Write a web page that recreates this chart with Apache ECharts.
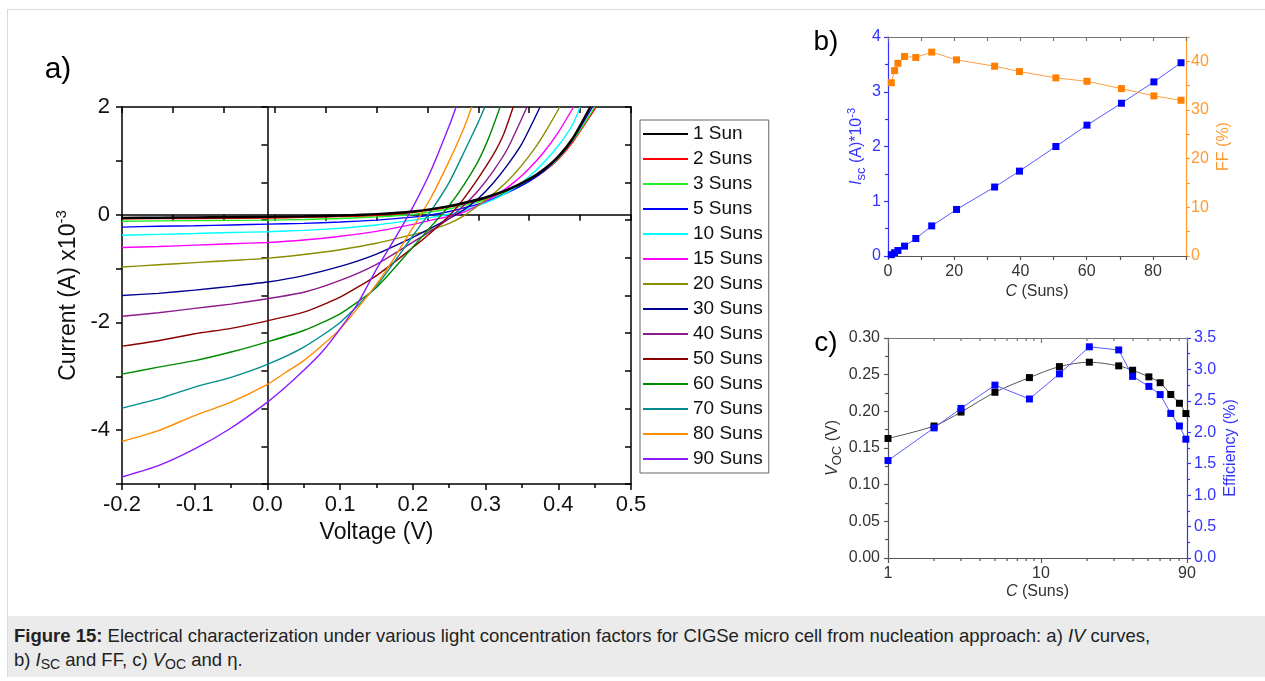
<!DOCTYPE html>
<html><head><meta charset="utf-8">
<script src="https://cdn.jsdelivr.net/npm/echarts@6/dist/echarts.min.js"></script>
<style>
html,body{margin:0;padding:0;background:#fff;}
#frame{position:absolute;left:7px;top:9px;width:1265px;height:668px;border:1px solid #dadada;box-sizing:border-box;}
#chart{position:absolute;left:0;top:0;width:1265px;height:681px;}
#cap{position:absolute;left:8px;top:616px;width:1257px;height:61px;background:#ebebeb;font-family:'Liberation Sans',Arial,sans-serif;font-size:18.5px;color:#222;line-height:24px;padding:8px 0 0 6px;box-sizing:border-box;white-space:nowrap;}
#cap sub{font-size:14px;vertical-align:-3px;line-height:0;}
</style></head><body>
<div id="frame"></div>
<div id="chart"></div>
<div id="cap"><b>Figure 15:</b> Electrical characterization under various light concentration factors for CIGSe micro cell from nucleation approach: a) <i>IV</i> curves,<br>b) <i>I</i><sub>SC</sub> and FF, c) <i>V</i><sub>OC</sub> and η.</div>
<script>
// ---------- DATA ----------
const legendNames = ['1 Sun','2 Suns','3 Suns','5 Suns','10 Suns','15 Suns','20 Suns','30 Suns','40 Suns','50 Suns','60 Suns','70 Suns','80 Suns','90 Suns'];

// IV curves: [voltage (V), current (A x1e-3)]
const sun1  = [[-0.2,-0.06],[-0.15,-0.055],[-0.1,-0.05],[-0.05,-0.045],[0,-0.04],[0.05,-0.03],[0.1,-0.015],[0.15,0.01],[0.2,0.06],[0.25,0.16],[0.28,0.25],[0.3,0.32],[0.33,0.46],[0.36,0.66],[0.38,0.84],[0.4,1.08],[0.42,1.42],[0.444,2.0]];
const sun2  = [[-0.2,-0.075],[-0.1,-0.07],[0,-0.06],[0.05,-0.05],[0.1,-0.035],[0.15,-0.015],[0.2,0.04],[0.25,0.14],[0.28,0.23],[0.3,0.3],[0.33,0.44],[0.36,0.63],[0.38,0.8],[0.4,1.03],[0.42,1.35],[0.44,1.75],[0.452,2.0]];
const sun3  = [[-0.2,-0.12],[-0.1,-0.11],[0,-0.1],[0.05,-0.09],[0.1,-0.07],[0.15,-0.04],[0.2,0.005],[0.25,0.11],[0.28,0.2],[0.3,0.28],[0.33,0.43],[0.36,0.63],[0.38,0.81],[0.4,1.05],[0.42,1.38],[0.44,1.78],[0.45,2.0]];
const sun5  = [[-0.2,-0.23],[-0.15,-0.215],[-0.1,-0.205],[-0.05,-0.19],[0,-0.175],[0.05,-0.16],[0.1,-0.135],[0.15,-0.1],[0.2,-0.045],[0.226,0],[0.25,0.06],[0.28,0.16],[0.3,0.24],[0.33,0.41],[0.36,0.62],[0.38,0.81],[0.4,1.06],[0.42,1.4],[0.447,2.0]];
const sun10 = [[-0.2,-0.38],[-0.15,-0.365],[-0.1,-0.35],[-0.05,-0.33],[0,-0.315],[0.05,-0.29],[0.1,-0.25],[0.15,-0.19],[0.2,-0.1],[0.225,-0.05],[0.246,0],[0.27,0.08],[0.3,0.22],[0.32,0.34],[0.34,0.5],[0.36,0.71],[0.38,0.97],[0.4,1.28],[0.42,1.68],[0.43,2.0]];
const sun15 = [[-0.2,-0.61],[-0.15,-0.59],[-0.1,-0.565],[-0.05,-0.54],[0,-0.515],[0.05,-0.47],[0.1,-0.4],[0.15,-0.31],[0.2,-0.18],[0.225,-0.1],[0.25,-0.03],[0.261,0],[0.28,0.11],[0.3,0.25],[0.32,0.41],[0.34,0.61],[0.36,0.86],[0.38,1.16],[0.4,1.53],[0.421,2.0]];
const sun20 = [[-0.2,-0.97],[-0.15,-0.93],[-0.1,-0.89],[-0.05,-0.85],[0,-0.81],[0.05,-0.74],[0.1,-0.65],[0.15,-0.53],[0.2,-0.37],[0.225,-0.28],[0.25,-0.16],[0.27,-0.02],[0.29,0.17],[0.31,0.38],[0.33,0.62],[0.35,0.92],[0.37,1.28],[0.385,1.6],[0.402,2.0]];
const sun30 = [[-0.2,-1.5],[-0.15,-1.46],[-0.1,-1.4],[-0.05,-1.33],[0,-1.25],[0.05,-1.13],[0.1,-0.96],[0.15,-0.73],[0.2,-0.42],[0.225,-0.25],[0.25,-0.07],[0.27,0.09],[0.29,0.3],[0.31,0.58],[0.33,0.92],[0.35,1.32],[0.375,2.0]];
const sun40 = [[-0.2,-1.885],[-0.15,-1.82],[-0.1,-1.74],[-0.05,-1.66],[0,-1.56],[0.05,-1.44],[0.1,-1.22],[0.15,-0.92],[0.2,-0.51],[0.225,-0.3],[0.25,-0.07],[0.27,0.17],[0.29,0.45],[0.31,0.8],[0.33,1.22],[0.357,2.0]];
const sun50 = [[-0.2,-2.44],[-0.15,-2.34],[-0.1,-2.21],[-0.05,-2.11],[0,-1.97],[0.05,-1.81],[0.1,-1.53],[0.15,-1.13],[0.2,-0.61],[0.225,-0.33],[0.25,-0.02],[0.27,0.3],[0.29,0.68],[0.31,1.1],[0.325,1.5],[0.338,2.0]];
const sun60 = [[-0.2,-2.96],[-0.15,-2.83],[-0.1,-2.71],[-0.05,-2.55],[0,-2.36],[0.05,-2.15],[0.1,-1.84],[0.15,-1.35],[0.2,-0.6],[0.225,-0.22],[0.25,0.17],[0.27,0.55],[0.29,1.0],[0.305,1.45],[0.32,2.0]];
const sun70 = [[-0.2,-3.59],[-0.15,-3.42],[-0.1,-3.2],[-0.05,-3.02],[0,-2.78],[0.05,-2.46],[0.1,-2.0],[0.15,-1.32],[0.2,-0.39],[0.225,0.07],[0.25,0.6],[0.27,1.15],[0.29,1.72],[0.299,2.0]];
const sun80 = [[-0.2,-4.21],[-0.15,-4.01],[-0.1,-3.73],[-0.05,-3.48],[0,-3.15],[0.025,-2.93],[0.05,-2.71],[0.075,-2.43],[0.1,-2.12],[0.125,-1.72],[0.15,-1.29],[0.175,-0.79],[0.2,-0.24],[0.225,0.32],[0.25,1.0],[0.27,1.6],[0.281,2.0]];
const sun90 = [[-0.2,-4.87],[-0.15,-4.66],[-0.1,-4.35],[-0.05,-3.96],[0,-3.48],[0.025,-3.2],[0.05,-2.89],[0.075,-2.55],[0.1,-2.12],[0.125,-1.63],[0.15,-1.01],[0.175,-0.45],[0.2,0.14],[0.225,0.82],[0.25,1.65],[0.26,2.02]];
const ivCurves = [sun1,sun2,sun3,sun5,sun10,sun15,sun20,sun30,sun40,sun50,sun60,sun70,sun80,sun90];

// panel b / c
const concentration = [1.0, 2.0, 3.0, 5.0, 8.4, 13.2, 20.7, 32.2, 39.7, 50.7, 60.1, 70.5, 80.3, 88.5];
const iscValues = [0.024, 0.06, 0.10, 0.18, 0.32, 0.55, 0.85, 1.26, 1.55, 2.00, 2.39, 2.79, 3.18, 3.53];
const ffValues  = [35.6, 38.1, 39.6, 41.0, 40.8, 41.9, 40.3, 39.0, 37.9, 36.6, 35.9, 34.4, 32.9, 32.0];
const vocValues = [0.163, 0.180, 0.199, 0.226, 0.246, 0.261, 0.267, 0.262, 0.256, 0.247, 0.239, 0.223, 0.211, 0.197];
const effValues = [1.55, 2.07, 2.38, 2.75, 2.53, 2.93, 3.36, 3.31, 2.89, 2.73, 2.60, 2.30, 2.10, 1.89];
const logMinorTicks = [2,3,4,5,6,7,8,9,20,30,40,50,60,70,80];

// ---------- STYLE ----------
const curveColors = ['#000000','#ff0000','#22ee22','#0000ff','#00ffff','#ff00ff','#8c8c00','#000090','#8c1a8c','#8c0000','#008c00','#008c8c','#ff8c00','#8c1aff'];
const FONT = "'Liberation Sans', Arial, sans-serif";
const BLUE = '#3333ff', ORANGE = '#ff9a30', DARK = '#333';

function zip(xs, ys){ return xs.map((x,i)=>[x, ys[i]]); }

const chart = echarts.init(document.getElementById('chart'));

const tick = (c, inside, len, w) => ({show:true, inside:inside, length:len, lineStyle:{color:c, width:w||1.5}});
const line = (c, w) => ({show:true, onZero:false, lineStyle:{color:c, width:w||1.5}});
const noLabel = {show:false};

const xAxes = [
  // 0: panel a bottom
  {gridIndex:0, type:'value', min:-0.2, max:0.5, interval:0.1, position:'bottom',
   axisLine:line('#000'), axisTick:tick('#000', false, 6),
   minorTick:{show:true, splitNumber:2, length:4, lineStyle:{color:'#000', width:1.5}},
   splitLine:{show:false},
   axisLabel:{fontSize:22, fontFamily:FONT, color:'#111', margin:10, formatter:v=>(Math.abs(v)<1e-9?0:v).toFixed(1)},
   name:'Voltage (V)', nameLocation:'middle', nameGap:36, nameTextStyle:{fontSize:23, fontFamily:FONT, color:'#111'}},
  // 1: panel a top frame
  {gridIndex:0, type:'value', min:0, max:10, interval:1, position:'top',
   axisLine:line('#000'), axisTick:tick('#000', true, 6), axisLabel:noLabel, splitLine:{show:false}},
  // 2: panel a inner horizontal line at I = 0
  {gridIndex:0, type:'value', min:0, max:10, interval:1, position:'bottom',
   axisLine:{show:true, onZero:true, onZeroAxisIndex:0, lineStyle:{color:'#000', width:1.5}},
   axisTick:tick('#000', false, 6), axisLabel:noLabel, splitLine:{show:false}},
  // 3: panel b bottom
  {gridIndex:1, type:'value', min:0, max:90, interval:10, position:'bottom',
   axisLine:line('#555', 1.2), axisTick:tick('#555', false, 4, 1.2), splitLine:{show:false},
   axisLabel:{fontSize:16, fontFamily:FONT, color:DARK, margin:8, formatter:v=>(Math.round(v)%20===0?String(Math.round(v)):'')},
   name:'{i|C} (Suns)', nameLocation:'middle', nameGap:28,
   nameTextStyle:{fontSize:16, fontFamily:FONT, color:DARK, rich:{i:{fontStyle:'italic', fontSize:16, fontFamily:FONT, color:DARK}}}},
  // 4: panel b top frame
  {gridIndex:1, type:'value', min:0, max:90, interval:10, position:'top',
   axisLine:line('#777', 1.2), axisTick:tick('#777', true, 4, 1.2), axisLabel:noLabel, splitLine:{show:false}},
  // 5: panel c bottom (log)
  {gridIndex:2, type:'log', logBase:10, min:1, max:90, position:'bottom',
   axisLine:line('#555', 1.2), axisTick:tick('#555', false, 5, 1.2), splitLine:{show:false},
   axisLabel:{fontSize:16, fontFamily:FONT, color:DARK, margin:8, formatter:v=>String(Math.round(v))},
   name:'{i|C} (Suns)', nameLocation:'middle', nameGap:26,
   nameTextStyle:{fontSize:16, fontFamily:FONT, color:DARK, rich:{i:{fontStyle:'italic', fontSize:16, fontFamily:FONT, color:DARK}}}},
  // 6: panel c top frame (log)
  {gridIndex:2, type:'log', logBase:10, min:1, max:90, position:'top',
   axisLine:line('#777', 1.2), axisTick:tick('#777', true, 5, 1.2), axisLabel:noLabel, splitLine:{show:false}}
];

const yAxes = [
  // 0: panel a left
  {gridIndex:0, type:'value', min:-5, max:2, interval:1, position:'left',
   axisLine:line('#000'), axisTick:tick('#000', false, 6), splitLine:{show:false},
   axisLabel:{fontSize:22, fontFamily:FONT, color:'#111', margin:12, formatter:v=>(Math.round(v)%2===0?String(Math.round(v)):'')},
   name:'Current (A) x10{sup|-3}', nameLocation:'middle', nameGap:38,
   nameTextStyle:{fontSize:23, fontFamily:FONT, color:'#111', lineHeight:30, rich:{sup:{fontSize:15, fontFamily:FONT, color:'#111', verticalAlign:'top', lineHeight:30}}}},
  // 1: panel a right frame
  {gridIndex:0, type:'value', min:0, max:10, interval:1, position:'right',
   axisLine:line('#000'), axisTick:tick('#000', true, 6), axisLabel:noLabel, splitLine:{show:false}},
  // 2: panel a inner vertical line at V = 0
  {gridIndex:0, type:'value', min:0, max:10, interval:1, position:'left',
   axisLine:{show:true, onZero:true, onZeroAxisIndex:0, lineStyle:{color:'#000', width:1.5}},
   axisTick:tick('#000', false, 6), axisLabel:noLabel, splitLine:{show:false}},
  // 3: panel b left (Isc)
  {gridIndex:1, type:'value', min:0, max:4, interval:1, position:'left',
   axisLine:line(BLUE, 1.2), axisTick:tick(BLUE, false, 4, 1.2),
   minorTick:{show:true, splitNumber:2, length:3, lineStyle:{color:BLUE, width:1.2}}, splitLine:{show:false},
   axisLabel:{fontSize:16, fontFamily:FONT, color:BLUE, margin:7},
   name:'{i|I}{sub|sc} (A)*10{sup|-3}', nameLocation:'middle', nameGap:20,
   nameTextStyle:{fontSize:16, fontFamily:FONT, color:BLUE, lineHeight:22,
     rich:{i:{fontStyle:'italic', fontSize:16, fontFamily:FONT, color:BLUE, lineHeight:22},
           sub:{fontSize:13, fontFamily:FONT, color:BLUE, verticalAlign:'bottom', lineHeight:22},
           sup:{fontSize:11, fontFamily:FONT, color:BLUE, verticalAlign:'top', lineHeight:22}}}},
  // 4: panel b right (FF)
  {gridIndex:1, type:'value', min:0, max:45, interval:5, position:'right',
   axisLine:line(ORANGE, 1.2), axisTick:tick(ORANGE, false, 4, 1.2), splitLine:{show:false},
   axisLabel:{fontSize:16, fontFamily:FONT, color:ORANGE, margin:5, formatter:v=>(Math.round(v)%10===0?String(Math.round(v)):'')},
   name:'FF (%)', nameLocation:'middle', nameGap:30, nameRotate:90,
   nameTextStyle:{fontSize:16, fontFamily:FONT, color:ORANGE}},
  // 5: panel c left (Voc)
  {gridIndex:2, type:'value', min:0, max:0.3, interval:0.05, position:'left',
   axisLine:line('#555', 1.2), axisTick:tick('#555', false, 4, 1.2),
   minorTick:{show:true, splitNumber:2, length:3, lineStyle:{color:'#555', width:1.2}}, splitLine:{show:false},
   axisLabel:{fontSize:16, fontFamily:FONT, color:DARK, margin:8, formatter:v=>v.toFixed(2)},
   name:'{i|V}{sub|OC} (V)', nameLocation:'middle', nameGap:44,
   nameTextStyle:{fontSize:16, fontFamily:FONT, color:DARK, lineHeight:22,
     rich:{i:{fontStyle:'italic', fontSize:16, fontFamily:FONT, color:DARK, lineHeight:22},
           sub:{fontSize:13, fontFamily:FONT, color:DARK, verticalAlign:'bottom', lineHeight:22}}}},
  // 6: panel c right (Efficiency)
  {gridIndex:2, type:'value', min:0, max:3.5, interval:0.5, position:'right',
   axisLine:line(BLUE, 1.2), axisTick:tick(BLUE, false, 4, 1.2),
   minorTick:{show:true, splitNumber:2, length:3, lineStyle:{color:BLUE, width:1.2}}, splitLine:{show:false},
   axisLabel:{fontSize:16, fontFamily:FONT, color:BLUE, margin:7, formatter:v=>v.toFixed(1)},
   name:'Efficiency (%)', nameLocation:'middle', nameGap:36, nameRotate:90,
   nameTextStyle:{fontSize:16, fontFamily:FONT, color:BLUE}}
];

const ivSeries = ivCurves.map((d, i) => ({
  name: legendNames[i], type:'line', xAxisIndex:0, yAxisIndex:0, data:d,
  showSymbol:false, symbol:'none', smooth:0.2, clip:true,
  color: curveColors[i], lineStyle:{width: i===0 ? 2.4 : 1.4, color: curveColors[i]},
  z: i===0 ? 3 : 2, animation:false
}));

const option = {
  animation:false,
  textStyle:{fontFamily:FONT},
  grid:[
    {left:122, top:107, width:509, height:377},
    {left:888, top:37, width:298, height:219},
    {left:888, top:338, width:299, height:220}
  ],
  xAxis:xAxes,
  yAxis:yAxes,
  legend:{
    data:legendNames, orient:'vertical', left:640, top:120, icon:'rect',
    itemWidth:45, itemHeight:2, itemGap:5, selectedMode:false,
    padding:[4,6,4,3], borderColor:'#666', borderWidth:1,
    textStyle:{fontSize:19, fontFamily:FONT, color:'#111', lineHeight:20}
  },
  graphic:[
    {type:'text', x:58, y:70, style:{text:'a)', fontSize:30, fontFamily:FONT, fill:'#000', align:'center', verticalAlign:'middle'}},
    {type:'text', x:826, y:42, style:{text:'b)', fontSize:28, fontFamily:FONT, fill:'#000', align:'center', verticalAlign:'middle'}},
    {type:'text', x:826, y:343, style:{text:'c)', fontSize:28, fontFamily:FONT, fill:'#000', align:'center', verticalAlign:'middle'}}
  ],
  series: ivSeries.concat([
    {name:'Isc', type:'line', xAxisIndex:3, yAxisIndex:3, data:zip(concentration, iscValues),
     symbol:'rect', symbolSize:7, itemStyle:{color:'#0000ff'}, lineStyle:{color:'#5a5aff', width:1}},
    {name:'FF', type:'line', xAxisIndex:3, yAxisIndex:4, data:zip(concentration, ffValues),
     symbol:'rect', symbolSize:7, itemStyle:{color:'#ff8000'}, lineStyle:{color:'#ffa040', width:1}},
    {name:'Voc', type:'line', xAxisIndex:5, yAxisIndex:5, data:zip(concentration, vocValues), smooth:0.3,
     symbol:'rect', symbolSize:7, itemStyle:{color:'#000'}, lineStyle:{color:'#555', width:1}},
    {name:'Eff', type:'line', xAxisIndex:5, yAxisIndex:6, data:zip(concentration, effValues),
     symbol:'rect', symbolSize:7, itemStyle:{color:'#0000ff'}, lineStyle:{color:'#5a5aff', width:1}},
    {name:'logticks', type:'custom', xAxisIndex:5, yAxisIndex:5, silent:true, clip:false,
     data: logMinorTicks.map(v=>[v, 0]),
     renderItem:function(params, api){
       const x = api.coord([api.value(0), 0])[0];
       const cs = params.coordSys;
       return {type:'group', children:[
         {type:'line', shape:{x1:x, y1:cs.y, x2:x, y2:cs.y+3}, style:{stroke:'#777', lineWidth:1.2}},
         {type:'line', shape:{x1:x, y1:cs.y+cs.height, x2:x, y2:cs.y+cs.height+3}, style:{stroke:'#555', lineWidth:1.2}}
       ]};
     }}
  ])
};
chart.setOption(option);
</script>
</body></html>
